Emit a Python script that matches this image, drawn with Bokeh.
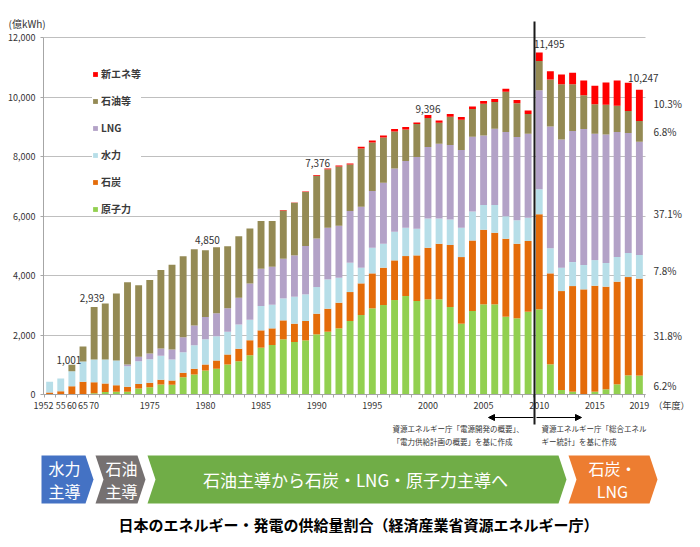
from bokeh.plotting import figure
from bokeh.models import (Range1d, FixedTicker, Legend, LegendItem, Label, Arrow,
                          NormalHead, ColumnDataSource, NumeralTickFormatter)
from bokeh.core.properties import value
from bokeh.embed import file_html
from bokeh.resources import INLINE

# ---------------- data (億kWh) ----------------
years = ["1952", "1955", "1960", "1965"] + [str(y) for y in range(1970, 2020)]
tick_labels = {"1955": "55", "1960": "60", "1965": "65", "1970": "70",
               "1975": "1975", "1980": "1980", "1985": "1985", "1990": "1990",
               "1995": "1995", "2000": "2000", "2005": "2005", "2010": "2010",
               "2015": "2015", "2019": "2019"}
first_tick_label = "1952"

nuclear = [0, 0, 0, 0, 46, 80, 90, 90, 200, 246, 336, 325, 582, 672, 806, 862, 1008, 1120,
           1322, 1574, 1663, 1854, 1764, 1820, 2022, 2111, 2223, 2470, 2671, 2895, 3007,
           3175, 3310, 3142, 3198, 3198, 2940, 2380, 2806, 3030, 3030, 2615, 2560, 2783,
           2862, 1014, 151, 95, 0, 95, 174, 342, 644, 635]
coal = [70, 110, 280, 425, 368, 290, 224, 168, 157, 146, 157, 146, 146, 190, 202, 280, 336,
        414, 504, 582, 560, 638, 616, 650, 694, 773, 862, 974, 1064, 1176, 1255, 1333,
        1344, 1534, 1736, 1870, 2083, 2240, 2374, 2509, 2408, 2618, 2509, 2374, 3198,
        3058, 3326, 3550, 3534, 3561, 3450, 3450, 3304, 3259]
hydro = [360, 430, 500, 683, 762, 806, 829, 694, 762, 795, 806, 706, 694, 795, 851, 818,
         762, 818, 683, 818, 795, 739, 907, 896, 896, 986, 840, 986, 527, 863, 806, 963,
         952, 896, 986, 851, 862, 986, 974, 829, 930, 762, 784, 784, 840, 840, 784, 806,
         818, 862, 795, 829, 806, 799]
lng = [0, 0, 0, 0, 0, 0, 0, 56, 146, 190, 246, 336, 504, 661, 750, 773, 795, 896, 1221,
       1254, 1277, 1333, 1389, 1624, 1635, 1736, 1747, 1736, 2048, 1904, 2050, 2128, 2240,
       2408, 2396, 2509, 2498, 2609, 2509, 2340, 2564, 2825, 2799, 2823, 3331, 4098,
       4313, 4403, 4569, 4246, 4323, 4199, 4033, 3802]
oil = [0, 0, 221, 504, 1763, 1882, 2251, 2766, 2408, 2475, 2643, 2845, 2722, 2565, 2241,
       2218, 2083, 2072, 1848, 1602, 1534, 1625, 1766, 1817, 2104, 1964, 1993, 1561, 1961,
       1635, 1523, 1243, 1064, 1109, 974, 706, 952, 1019, 930, 1064, 896, 1355, 1142, 661,
       975, 1579, 1858, 1578, 1142, 996, 996, 884, 739, 697]
new_energy = [0, 0, 0, 0, 0, 0, 0, 0, 0, 0, 0, 0, 0, 0, 0, 0, 0, 0, 0, 0, 0, 10, 15, 20,
              25, 30, 35, 40, 56, 67, 67, 79, 78, 56, 106, 78, 90, 90, 89, 90, 101, 101,
              101, 123, 289, 279, 324, 380, 492, 616, 750, 851, 951, 1055]

series_keys = ["nuclear", "coal", "hydro", "lng", "oil", "new"]
series_names = ["原子力", "石炭", "水力", "LNG", "石油等", "新エネ等"]
colors = ["#92D050", "#E46C0A", "#B7DEE8", "#B3A2C7", "#948A54", "#FF0000"]
labelled_years = ["1960", "1970", "1980", "1990", "2000", "2010", "2019"]

eras = ["水力\n主導", "石油\n主導", "石油主導から石炭・LNG・原子力主導へ", "石炭・\nLNG"]
era_colors = ["#4472C4", "#767171", "#70AD47", "#ED7D31"]
title_text = "日本のエネルギー・発電の供給量割合（経済産業省資源エネルギー庁）"

# ---------------- geometry helpers ----------------
JP = "Noto Sans CJK JP"
W, H = 700, 547
idx = list(range(len(years)))
totals = [sum(v) for v in zip(nuclear, coal, hydro, lng, oil, new_energy)]
src = ColumnDataSource(dict(x=idx, nuclear=nuclear, coal=coal, hydro=hydro, lng=lng,
                            oil=oil, new=new_energy))

X0, X1 = -0.55, 53.55          # category extent of the chart area
PL, PR, PT, PB = 43, 645, 37, 394   # chart area in page pixels
YMAX = 12000
def fx(px):
    return X0 + (px - PL) * (X1 - X0) / (PR - PL)
def fy(py):
    return (PB - py) * YMAX / (PB - PT)

p = figure(width=W, height=H, x_range=Range1d(fx(0), fx(W)), y_range=Range1d(fy(H), fy(0)),
           output_backend="svg", toolbar_location=None, min_border=0)
p.outline_line_color = None
p.xgrid.visible = False
p.ygrid.grid_line_color = "#BFBFBF"
p.ygrid.ticker = FixedTicker(ticks=list(range(0, YMAX + 1, 2000)))
try:
    p.ygrid.cross_bounds = (X0, X1)
except AttributeError:
    p.ygrid.visible = False
    gl = list(range(0, YMAX + 1, 2000))
    p.segment(x0=[X0] * len(gl), x1=[X1] * len(gl), y0=gl, y1=gl, line_color="#BFBFBF")

rs = p.vbar_stack(series_keys, x="x", width=0.62, source=src, fill_color=colors,
                  line_color=None)

# axes drawn at fixed positions inside the canvas
p.yaxis.fixed_location = X0
p.yaxis.bounds = (0, YMAX)
p.xaxis.fixed_location = 0
p.xaxis.bounds = (X0, X1)
p.yaxis.ticker = FixedTicker(ticks=list(range(0, YMAX + 1, 2000)))
p.yaxis.formatter = NumeralTickFormatter(format="0,0")
p.xaxis.ticker = FixedTicker(ticks=[years.index(y) for y in tick_labels],
                             minor_ticks=[i - 0.5 for i in range(len(years) + 1)])
p.xaxis.major_label_overrides = {years.index(y): t for y, t in tick_labels.items()}
for ax in (p.xaxis[0], p.yaxis[0]):
    ax.axis_line_color = "#A6A6A6"
    ax.major_label_text_font = JP
    ax.major_label_text_font_size = "9px"
    ax.major_label_text_color = "#333333"
    ax.major_tick_in = 0
    ax.major_tick_out = 3
    ax.minor_tick_in = 0
p.yaxis.major_tick_line_color = "#A6A6A6"
p.yaxis.minor_tick_line_color = None
p.yaxis.major_label_standoff = 5
p.xaxis.major_tick_line_color = None
p.xaxis.minor_tick_line_color = "#A6A6A6"
p.xaxis.minor_tick_out = 3
p.xaxis.major_label_standoff = 4
# first year label sits left of its bar, as in the original
p.add_layout(Label(x=fx(43), y=fy(405), text=first_tick_label, text_align="center",
                   text_baseline="middle", text_font=JP, text_font_size="9px",
                   text_color="#333333"))

# legend
items = [LegendItem(label=n, renderers=[r])
         for n, r in reversed(list(zip(series_names, rs)))]
legend = Legend(items=items, location=(92, 331), glyph_width=6, glyph_height=6,
                spacing=12, padding=8, label_standoff=3,
                label_text_font=JP, label_text_font_size="10px",
                label_text_font_style="bold", label_text_color="#3a3a3a",
                background_fill_color="white", background_fill_alpha=1,
                border_line_color=None)
p.add_layout(legend, "center")

# value labels
dx = {"1960": -3, "1970": -2, "1980": 2, "1990": 1, "2000": 0, "2010": 10, "2019": 4}
dy = {"1960": 1, "1970": 5, "1980": 6, "1990": 8, "2000": 2, "2010": 5, "2019": 8}
for y in labelled_years:
    i = years.index(y)
    p.add_layout(Label(x=i, y=totals[i], text=f"{totals[i]:,}", x_offset=dx[y],
                       y_offset=dy[y], text_align="center", text_baseline="bottom",
                       text_font=JP, text_font_size="10px", text_color="#333333"))

# 2019 share labels
last = len(years) - 1
vals_2019 = [nuclear[last], coal[last], hydro[last], lng[last], oil[last], new_energy[last]]
nudge = [0, 8, 4, 15, 0, -2]
cum = 0
for v, nd in zip(vals_2019, nudge):
    mid = cum + v / 2
    cum += v
    p.add_layout(Label(x=last, y=mid, text=f"{v / totals[last] * 100:.1f}%", x_offset=14,
                       y_offset=-nd, text_align="left", text_baseline="middle",
                       text_font=JP, text_font_size="10px", text_color="#333333"))

# unit labels
p.add_layout(Label(x=fx(8), y=fy(23), text="(億kWh)", text_align="left",
                   text_baseline="middle", text_font=JP, text_font_size="10px",
                   text_color="#333333"))
p.add_layout(Label(x=fx(653), y=fy(405), text="（年度）", text_align="left",
                   text_baseline="middle", text_font=JP, text_font_size="9px",
                   text_color="#333333"))

# divider at 2010 and source arrows
xdiv = fx(534)
p.add_layout(Arrow(end=None, x_start=xdiv, y_start=fy(21), x_end=xdiv, y_end=fy(424),
                   line_color="#1a1a1a", line_width=2))
for xs, xe in ((533, 488), (536, 581)):
    p.add_layout(Arrow(end=NormalHead(size=6, fill_color="black", line_color="black"),
                       x_start=fx(xs), y_start=fy(417), x_end=fx(xe), y_end=fy(417),
                       line_color="black", line_width=1))
notes = [(392, 428, "資源エネルギー庁「電源開発の概要」、"),
         (392, 441, "「電力供給計画の概要」を基に作成"),
         (541, 428, "資源エネルギー庁「総合エネル"),
         (541, 441, "ギー統計」を基に作成")]
for nx, ny, t in notes:
    p.add_layout(Label(x=fx(nx), y=fy(ny), text=t, text_align="left",
                       text_baseline="middle", text_font=JP, text_font_size="7.5px",
                       text_color="#333333"))

# ---------------- era banner + title ----------------
seg_bounds = [(41, 93), (95, 145), (147, 566), (568, 657)]
top, bot, dep = 455, 503, 8
mid = (top + bot) / 2
xs_list, ys_list = [], []
for k, (a, b) in enumerate(seg_bounds):
    if k == 0:
        px_ = [a, b - dep, b, b - dep, a]
        py_ = [top, top, mid, bot, bot]
    else:
        px_ = [a, b - dep, b, b - dep, a, a + dep]
        py_ = [top, top, mid, bot, bot, mid]
    xs_list.append([fx(v) for v in px_])
    ys_list.append([fy(v) for v in py_])
p.patches(xs_list, ys_list, fill_color=era_colors, line_color=None)

tx, ty, tt, ts = [], [], [], []
centres = [64, 121, 355, 612]
for (a, b), c, label in zip(seg_bounds, centres, eras):
    lines = label.split("\n")
    if len(lines) == 1:
        tx.append(fx(c)); ty.append(fy(mid)); tt.append(lines[0]); ts.append("17px")
    else:
        for ln, yy in zip(lines, (mid - 11.5, mid + 11.5)):
            tx.append(fx(c)); ty.append(fy(yy)); tt.append(ln); ts.append("16px")
bsrc = ColumnDataSource(dict(x=tx, y=ty, text=tt, size=ts))
p.text(x="x", y="y", text="text", source=bsrc, text_align="center",
       text_baseline="middle", text_color="white", text_font=value(JP),
       text_font_size="size")

p.add_layout(Label(x=fx(358), y=fy(524), text=title_text, text_align="center",
                   text_baseline="middle", text_color="black", text_font=JP,
                   text_font_size="15px", text_font_style="bold"))

open("out.html", "w").write(file_html(p, INLINE))
